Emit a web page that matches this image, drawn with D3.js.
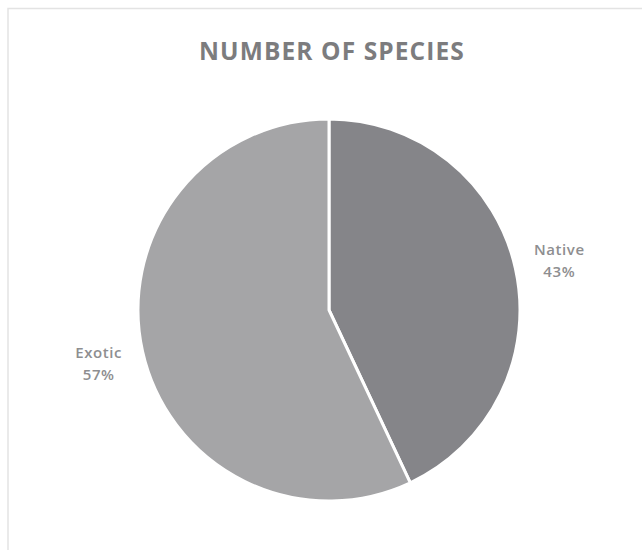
<!DOCTYPE html>
<html>
<head>
<meta charset="utf-8">
<script src="https://cdn.jsdelivr.net/npm/d3@7"></script>
<style>
  body { margin: 0; background: #fff; }
  svg { display: block; }
</style>
</head>
<body>
<div id="chart"></div>
<script>
// Chart data
let categories = ['Native', 'Exotic'];
let values = [43, 57];
let colors = ['#858589', '#a5a5a7'];

{
    let width = 642,
        height = 550;

    let cx = 329,
        cy = 310,
        radius = 191;

    let svg = d3.select('#chart')
        .append('svg')
        .attr('width', width)
        .attr('height', height);

    // Chart area border
    svg.append('rect')
        .attr('x', 8)
        .attr('y', 8.5)
        .attr('width', 700)
        .attr('height', 600)
        .attr('fill', 'none')
        .attr('stroke', '#e3e3e3')
        .attr('stroke-width', 1.5);

    // Title
    svg.append('text')
        .attr('x', 332)
        .attr('y', 60)
        .attr('text-anchor', 'middle')
        .style('font-family', '"Open Sans", sans-serif')
        .style('font-weight', 700)
        .style('font-size', '24.5px')
        .style('letter-spacing', '1.1px')
        .style('fill', '#7c7c7e')
        .text('NUMBER OF SPECIES');

    let data = categories.map(function (c, i) {
        return { name: c, value: values[i], color: colors[i] };
    });

    let pie = d3.pie()
        .sort(null)
        .value(function (d) {
            return d.value;
        });

    let arc = d3.arc()
        .innerRadius(0)
        .outerRadius(radius);

    let labelArc = d3.arc()
        .innerRadius(236)
        .outerRadius(236);

    let g = svg.append('g')
        .attr('transform', 'translate(' + cx + ',' + cy + ')');

    g.selectAll('path')
        .data(pie(data))
        .enter()
        .append('path')
        .attr('d', arc)
        .attr('fill', function (d) {
            return d.data.color;
        })
        .attr('stroke', '#fff')
        .attr('stroke-width', 3)
        .attr('stroke-linejoin', 'round');

    // Data labels
    let labels = g.selectAll('.label')
        .data(pie(data))
        .enter()
        .append('text')
        .attr('class', 'label')
        .attr('transform', function (d) {
            return 'translate(' + labelArc.centroid(d) + ')';
        })
        .attr('text-anchor', 'middle')
        .style('font-family', '"Open Sans", sans-serif')
        .style('font-weight', 600)
        .style('font-size', '15px')
        .style('letter-spacing', '0.6px')
        .style('fill', '#8e8e90');

    labels.append('tspan')
        .attr('x', 0)
        .attr('dy', '-0.25em')
        .text(function (d) {
            return d.data.name;
        });

    labels.append('tspan')
        .attr('x', 0)
        .attr('dy', '1.5em')
        .text(function (d) {
            return d3.format('.0%')(d.data.value / 100);
        });
}
</script>
</body>
</html>
